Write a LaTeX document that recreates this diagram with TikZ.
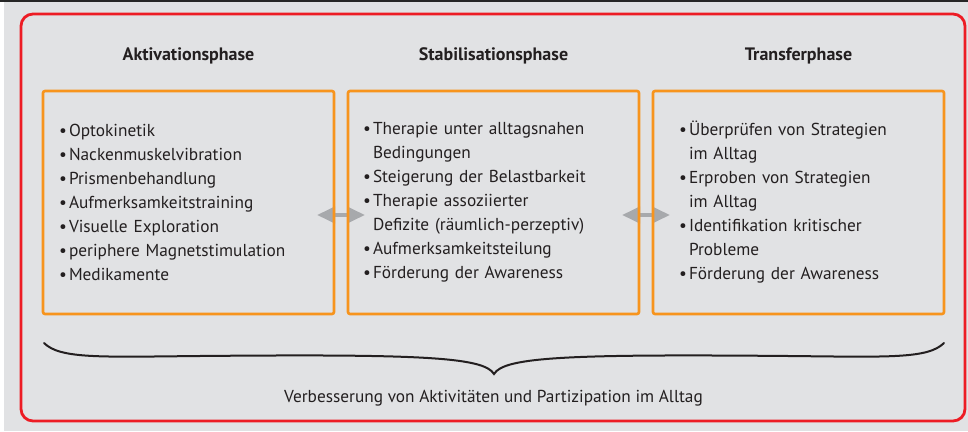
\documentclass[tikz,border=0pt]{standalone}
\usepackage{fontspec}
\setmainfont{PT Sans}
\usetikzlibrary{positioning, calc, arrows.meta}

\definecolor{panelgray}{HTML}{E1E2E4}
\definecolor{framered}{HTML}{ED1C24}
\definecolor{boxorange}{HTML}{F7941D}
\definecolor{arrowgray}{HTML}{A7A9AC}
\definecolor{inkblack}{HTML}{231F20}

\pgfdeclarelayer{bg}
\pgfsetlayers{bg,main}

\newcommand{\bul}{\makebox[10pt][l]{\textbullet}}
\newcommand{\cont}{\hspace*{10pt}}

\begin{document}
\begin{tikzpicture}[x=1pt, y=1pt,
		phasebox/.style={draw=boxorange, line width=2.6pt, rounded corners=2pt, minimum width=291pt, minimum height=223pt, align=left, outer sep=0pt, inner ysep=0pt, text=inkblack, font=\fontsize{17.3}{24}\selectfont},
		phasetitle/.style={inner sep=0pt, text=inkblack, font=\bfseries\fontsize{18}{20}\selectfont},
		twoway/.style={{Triangle[length=18pt,width=16pt]}-{Triangle[length=18pt,width=16pt]}, arrowgray, line width=4pt, shorten <=-17pt, shorten >=-17pt}]
	\useasboundingbox (0,0) rectangle (968,431);

	% the three phases
	\node (act) [phasebox, inner xsep=16pt, text width=259pt] at (188.5,228.5) {\bul Optokinetik\\ \bul Nackenmuskelvibration\\ \bul Prismenbehandlung\\ \bul Aufmerksamkeitstraining\\ \bul Visuelle Exploration\\ \bul periphere Magnetstimulation\\ \bul Medikamente};
	\node (stab) [phasebox, inner xsep=15pt, text width=261pt, right=14pt of act] {\bul Therapie unter alltagsnahen\\ \cont Bedingungen\\ \bul Steigerung der Belastbarkeit\\ \bul Therapie assoziierter\\ \cont Defizite (räumlich-perzeptiv)\\ \bul Aufmerksamkeitsteilung\\ \bul Förderung der Awareness};
	\node (trans) [phasebox, inner xsep=26pt, text width=239pt, right=14pt of stab] {\bul Überprüfen von Strategien\\ \cont im Alltag\\ \bul Erproben von Strategien\\ \cont im Alltag\\ \bul Identifikation kritischer\\ \cont Probleme\\ \bul Förderung der Awareness};

	\node (acttitle) [phasetitle, above=27pt of act] {Aktivationsphase};
	\node (stabtitle) [phasetitle, above=27pt of stab] {Stabilisationsphase};
	\node (transtitle) [phasetitle, above=27pt of trans] {Transferphase};

	\begin{pgfonlayer}{bg}
		% panel background and top rule
		\fill[white] (0,0) rectangle (968,431);
		\fill[panelgray] (4,0) rectangle (968,429);
		\fill[black!85] (0,429) rectangle (968,431);
		\draw[framered, line width=2.8pt, rounded corners=12pt] (21,10) rectangle (965,417);
		\draw[twoway] ([yshift=-12.5pt]act.east) -- ([yshift=-12.5pt]stab.west);
		\draw[twoway] ([yshift=-12.5pt]stab.east) -- ([yshift=-12.5pt]trans.west);
	\end{pgfonlayer}

	% brace and goal
	\draw[inkblack, line width=2pt, line cap=round] (44,88) .. controls (60,72) and (100,74) .. (200,75) .. controls (420,77) and (484,74) .. (494,57)
		.. controls (504,74) and (568,77) .. (788,75) .. controls (888,74) and (928,72) .. (944,88);
	\node (goal) [below=76pt of stab, inner sep=0pt, text=inkblack, font=\fontsize{17.3}{20}\selectfont] {Verbesserung von Aktivitäten und Partizipation im Alltag};
\end{tikzpicture}
\end{document}
